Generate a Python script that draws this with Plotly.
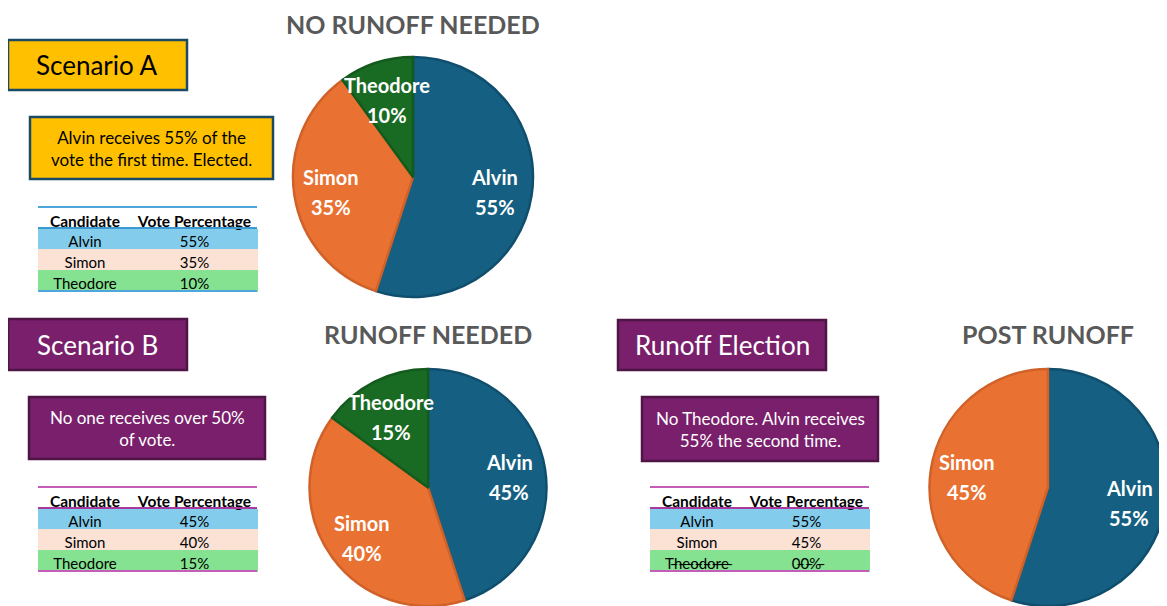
import math
import plotly.graph_objects as go

# reference canvas size and the page's default body offset
W, H = 1167, 606
OFF = 8
FW, FH = W - OFF, H - OFF

# ---------------- data ----------------
candidates = ["Alvin", "Simon", "Theodore"]
scenario_a_votes = [55, 35, 10]
scenario_b_votes = [45, 40, 15]
runoff_candidates = ["Alvin", "Simon"]
runoff_votes = [55, 45]
runoff_table_votes = [55, 45, 0]

pie_titles = ["NO RUNOFF NEEDED", "RUNOFF NEEDED", "POST RUNOFF"]
box_titles = ["Scenario A", "Scenario B", "Runoff Election"]
box_notes = [
    "Alvin receives 55% of the<br>vote the first time. Elected.",
    "No one receives over 50%<br>of vote.",
    "No Theodore. Alvin receives<br>55% the second time.",
]
table_headers = ["Candidate", "Vote\u00a0Percentage"]

# ---------------- style ----------------
FONT = "Lato"
slice_colors = {"Alvin": "#156082", "Simon": "#E97132", "Theodore": "#196B24"}
slice_edges = {"Alvin": "#0F4E6C", "Simon": "#CF6129", "Theodore": "#145A1D"}
row_fill = {"Alvin": "#83CCEB", "Simon": "#FBE2D5", "Theodore": "#84E291"}


def px_x(x):
    return min(1.0, max(0.0, (x - OFF) / FW))


def px_y(y):
    return min(1.0, max(0.0, 1 - (y - OFF) / FH))


def struck(s):
    return "".join(ch + "\u0336" for ch in s)


fig = go.Figure()
annotations = []
shapes = []

# ---------------- pies ----------------
pies = [
    (candidates, scenario_a_votes, 413, 177, 120),
    (candidates, scenario_b_votes, 428, 488, 119),
    (runoff_candidates, runoff_votes, 1048, 488, 119),
]
title_pos = [(413, 24), (428, 334), (1048, 334)]

for (labels, vals, cx, cy, r), title, (tx, ty) in zip(pies, pie_titles, title_pos):
    fig.add_trace(go.Pie(
        labels=labels, values=vals, sort=False, direction="clockwise",
        rotation=0, textinfo="none", showlegend=False, hoverinfo="label+percent",
        marker=dict(colors=[slice_colors[c] for c in labels],
                    line=dict(color=[slice_edges[c] for c in labels], width=2.5)),
        domain=dict(x=[px_x(cx - r), px_x(cx + r)],
                    y=[px_y(cy + r), px_y(cy - r)]),
    ))
    # slice labels placed at the slice mid-angle
    total = sum(vals)
    cum = 0
    for lab, v in zip(labels, vals):
        mid = (cum + v / 2) / total * 2 * math.pi
        cum += v
        lx = cx + 0.69 * r * math.sin(mid)
        ly = cy - 0.69 * r * math.cos(mid) + 2
        for dy, txt in ((-15, lab), (15, f"{v}%")):
            annotations.append(dict(
                x=px_x(lx), y=px_y(ly + dy), xref="paper", yref="paper",
                text=txt, showarrow=False, xanchor="center", yanchor="middle",
                font=dict(family=FONT, size=20, color="white", weight="bold"),
            ))
    annotations.append(dict(
        x=px_x(tx), y=px_y(ty), xref="paper", yref="paper", text=title,
        showarrow=False, xanchor="center", yanchor="middle",
        font=dict(family=FONT, size=25, color="#595959", weight="bold"),
    ))

# ---------------- boxes ----------------
box_styles = [
    dict(fill="#FFC000", edge="#1B4A64", text="#000000"),
    dict(fill="#7A1F6C", edge="#4E1546", text="#FFFFFF"),
    dict(fill="#7A1F6C", edge="#4E1546", text="#FFFFFF"),
]
title_boxes = [(7, 40, 187, 90), (7, 319, 187, 370), (618, 320, 826, 370)]
note_boxes = [(30, 117, 273, 179), (29, 397, 265, 459), (642, 397, 878, 461)]

for (x0, y0, x1, y1), t, st in zip(title_boxes, box_titles, box_styles):
    shapes.append(dict(type="rect", xref="paper", yref="paper",
                       x0=px_x(x0), x1=px_x(x1), y0=px_y(y1), y1=px_y(y0),
                       fillcolor=st["fill"], line=dict(color=st["edge"], width=2.5),
                       layer="below"))
    annotations.append(dict(x=px_x((x0 + x1) / 2), y=px_y((y0 + y1) / 2), xref="paper",
                            yref="paper", text=t, showarrow=False,
                            xanchor="center", yanchor="middle",
                            font=dict(family=FONT, size=26, color=st["text"])))

for (x0, y0, x1, y1), t, st in zip(note_boxes, box_notes, box_styles):
    shapes.append(dict(type="rect", xref="paper", yref="paper",
                       x0=px_x(x0), x1=px_x(x1), y0=px_y(y1), y1=px_y(y0),
                       fillcolor=st["fill"], line=dict(color=st["edge"], width=2.5),
                       layer="below"))
    annotations.append(dict(x=px_x((x0 + x1) / 2), y=px_y((y0 + y1) / 2), xref="paper",
                            yref="paper", text=t, showarrow=False, align="center",
                            xanchor="center", yanchor="middle",
                            font=dict(family=FONT, size=17, color=st["text"])))

# ---------------- tables ----------------
tables = [
    (candidates, scenario_a_votes, 38, 207, 257, "#4EA6DC", "#3C9AD2", False),
    (candidates, scenario_b_votes, 38, 487, 257, "#C45DBA", "#A83A9E", False),
    (candidates, runoff_table_votes, 650, 487, 869, "#C45DBA", "#A83A9E", True),
]
ROW_H = 21
for names, vals, x0, y0, x1, lc, lc2, strike in tables:
    name_txt, val_txt = [], []
    for n, v in zip(names, vals):
        if strike and n not in runoff_candidates:
            name_txt.append(struck(n))
            val_txt.append(struck(f"{v:02d}%"))
        else:
            name_txt.append(n)
            val_txt.append(f"{v}%")
    fills = [row_fill[n] for n in names]
    y1 = y0 + ROW_H * (len(names) + 1)
    fig.add_trace(go.Table(
        domain=dict(x=[px_x(x0), px_x(x1)], y=[px_y(y1 + 2), px_y(y0)]),
        columnwidth=[94, 125],
        header=dict(values=table_headers, height=ROW_H, fill_color="white",
                    line=dict(color="white", width=1), align="center",
                    font=dict(family=FONT, size=15.5, color="black", weight="bold")),
        cells=dict(values=[name_txt, val_txt], height=ROW_H,
                   fill_color=[fills, fills], line=dict(color=[fills, fills], width=1),
                   align="center", font=dict(family=FONT, size=15, color="black")),
    ))
    for yy, col, wdt in ((y0, lc, 2), (y0 + ROW_H, lc2, 2), (y1, lc, 2)):
        shapes.append(dict(type="line", xref="paper", yref="paper",
                           x0=px_x(x0), x1=px_x(x1), y0=px_y(yy), y1=px_y(yy),
                           line=dict(color=col, width=wdt), layer="above"))

fig.update_layout(
    width=FW, height=FH, margin=dict(l=0, r=0, t=0, b=0),
    paper_bgcolor="white", plot_bgcolor="white",
    annotations=annotations, shapes=shapes, showlegend=False,
)

fig.write_html("out.html")
